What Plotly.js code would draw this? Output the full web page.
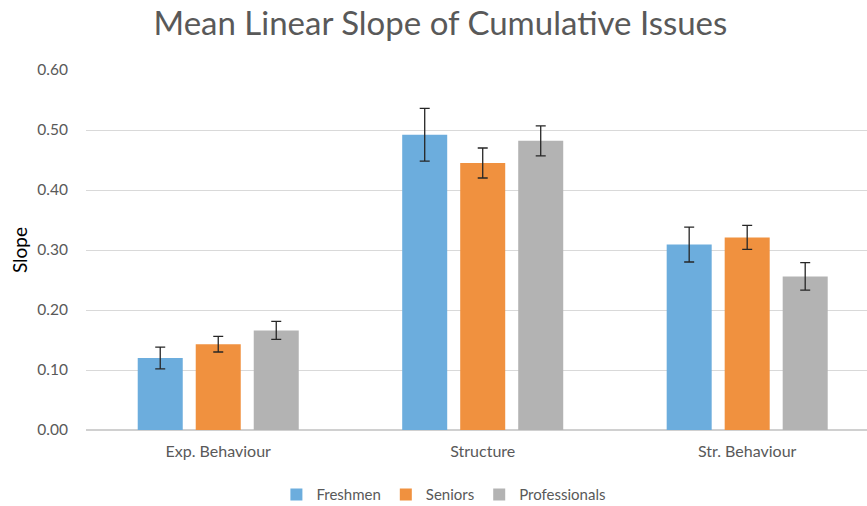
<!DOCTYPE html>
<html>
<head>
<meta charset="utf-8">
<script src="https://cdn.plot.ly/plotly-3.0.1.min.js"></script>
<style>html,body{margin:0;padding:0;background:#fff;}#chart{width:867px;height:506px;}</style>
</head>
<body>
<div id="chart"></div>
<script>
const categories = ["Exp. Behaviour", "Structure", "Str. Behaviour"];
const seriesNames = ["Freshmen", "Seniors", "Professionals"];
const freshmen = [0.120, 0.492, 0.309];
const seniors = [0.143, 0.445, 0.321];
const professionals = [0.166, 0.482, 0.256];
const freshmenErr = [0.018, 0.044, 0.029];
const seniorsErr = [0.013, 0.025, 0.020];
const professionalsErr = [0.015, 0.025, 0.023];
const yTicks = [0, 0.1, 0.2, 0.3, 0.4, 0.5, 0.6];
const yTickLabels = ["0.00", "0.10", "0.20", "0.30", "0.40", "0.50", "0.60"];

const colors = ["#6CADDD", "#F0913F", "#B3B3B3"];
const values = [freshmen, seniors, professionals];
const errs = [freshmenErr, seniorsErr, professionalsErr];
const FONT = "Lato, 'Open Sans', sans-serif";

const traces = seriesNames.map((name, i) => ({
  type: "bar",
  name: name,
  x: categories,
  y: values[i],
  marker: {color: colors[i], line: {width: 0}},
  error_y: {type: "data", array: errs[i], visible: true, color: "#262626", thickness: 1.3, width: 5}
}));

const layout = {
  width: 867, height: 506,
  margin: {l: 86, r: 0, t: 70, b: 76},
  paper_bgcolor: "#fff", plot_bgcolor: "#fff",
  barmode: "group", bargap: 0.342, bargroupgap: 0.224,
  font: {family: FONT, color: "#595959", size: 15.5},
  title: {text: "Mean Linear Slope of Cumulative Issues", font: {family: FONT, size: 33, color: "#595959"},
          x: 0.508, xanchor: "center", xref: "container", y: 0.953, yanchor: "middle", yref: "container"},
  xaxis: {type: "category", range: [-0.5, 2.453], showgrid: false, zeroline: false,
          showline: false, ticks: "outside", ticklen: 7, tickcolor: "rgba(0,0,0,0)",
          tickfont: {family: FONT, size: 16, color: "#595959"}},
  yaxis: {range: [0, 0.6], tickvals: yTicks, ticktext: yTickLabels, showgrid: true, gridcolor: "#D9D9D9", gridwidth: 1,
          zeroline: true, zerolinecolor: "#D0D0D0", zerolinewidth: 1.5, showline: false,
          ticks: "outside", ticklen: 14, tickcolor: "rgba(0,0,0,0)",
          tickfont: {family: FONT, size: 15.5, color: "#595959"},
          title: {text: "Slope", font: {family: FONT, size: 19, color: "#000"}, standoff: 4}},
  showlegend: true,
  legend: {orientation: "h", xref: "container", x: 0.512, xanchor: "center", yref: "container", y: 0.022, yanchor: "middle",
           font: {family: FONT, size: 15, color: "#595959"}, itemwidth: 30, traceorder: "normal"}
};

Plotly.newPlot("chart", traces, layout, {displayModeBar: false, staticPlot: true});
</script>
</body>
</html>
